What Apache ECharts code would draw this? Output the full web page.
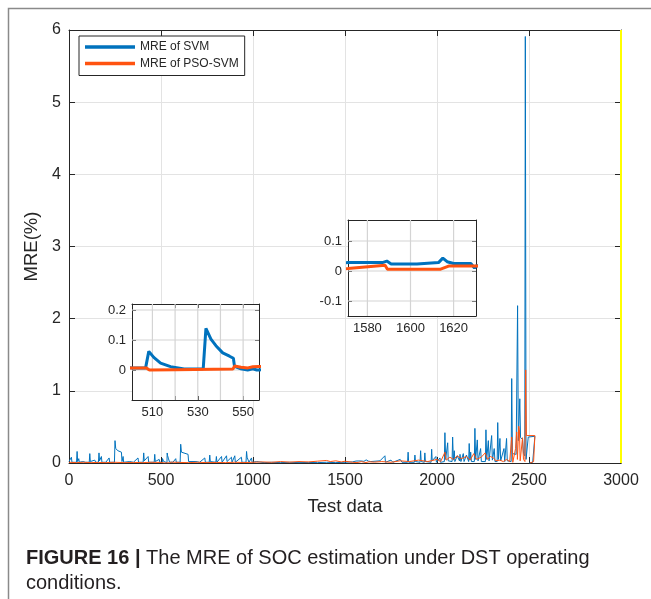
<!DOCTYPE html>
<html>
<head>
    <meta charset="utf-8" />
    <title>MRE of SOC estimation under DST</title>
    <script src="https://cdn.jsdelivr.net/npm/echarts@6/dist/echarts.min.js"></script>
    <style>
        html, body { margin: 0; padding: 0; background: #fff; }
        #main { width: 651px; height: 599px; }
    </style>
</head>
<body>
<div id="main"></div>
<script type="text/javascript">
    // [test data index, MRE %]
    let sveMre = [
        [0,0.02],[10,0.01],[13,0.08],[16,0.01],[25,0.03],[30,0.01],[41,0.01],[44,0.16],[47,0.02],[53,0.06],[56,0.01],
        [75,0.02],[90,0.01],[110,0.01],[113,0.13],[116,0.02],[125,0.01],[140,0.04],[145,0.01],[160,0.01],[163,0.14],
        [166,0.03],[176,0.09],[179,0.01],[200,0.01],[218,0.07],[221,0.01],[247,0.01],[250,0.31],[254,0.2],[266,0.17],
        [285,0.15],[288,0.02],[294,0.09],[297,0.01],[330,0.02],[350,0.01],[375,0.07],[378,0.01],[403,0.01],[406,0.14],
        [409,0.03],[430,0.09],[433,0.01],[463,0.01],[466,0.12],[469,0.02],[490,0.05],[494,0.01],[501,0.007],[507,0.007],
        [508.4,0.062],[510.6,0.042],[513.6,0.023],[518,0.011],[524,0.003],[532.4,0.004],[533.6,0.139],[535.8,0.103],
        [538,0.081],[541,0.057],[544,0.046],[545.7,0.039],[546.2,0.012],[549,0.004],[552,0],[554.3,0.004],[556,0],
        [557,0],[565,0.01],[580,0.06],[583,0.01],[604,0.01],[607,0.26],[611,0.15],[620,0.14],[647,0.12],[650,0.02],
        [690,0.02],[710,0.01],[738,0.07],[741,0.01],[762,0.01],[765,0.11],[768,0.02],[798,0.01],[801,0.09],[804,0.01],
        [829,0.09],[832,0.01],[856,0.1],[859,0.02],[883,0.08],[886,0.01],[901,0.1],[904,0.01],[937,0.08],[940,0.01],
        [962,0.01],[965,0.16],[968,0.08],[975,0.07],[978,0.01],[992,0.07],[995,0.01],[1020,0.02],[1060,0.005],
        [1100,0.01],[1150,0.005],[1200,0.01],[1250,0.005],[1300,0.008],[1350,0.005],[1400,0.01],[1450,0.005],
        [1500,0.01],[1540,0.015],[1560,0.027],[1571,0.028],[1587,0.028],[1589,0.033],[1591,0.023],[1603,0.023],
        [1613,0.028],[1615,0.043],[1617,0.031],[1620,0.025],[1628,0.025],[1629.7,0.01],[1630.4,0.017],[1640,0.02],
        [1690,0.03],[1700,0.01],[1717,0.1],[1720,0.01],[1750,0.04],[1760,0.01],[1800,0.05],[1810,0.01],[1840,0.01],
        [1843,0.15],[1846,0.01],[1877,0.01],[1880,0.11],[1883,0.02],[1908,0.01],[1911,0.17],[1914,0.02],[1931,0.01],
        [1934,0.14],[1937,0.02],[1968,0.01],[1971,0.19],[1974,0.03],[1994,0.09],[1997,0.01],[2016,0.07],[2019,0.01],
        [2040,0.02],[2043,0.42],[2047,0.05],[2058,0.28],[2061,0.03],[2082,0.02],[2085,0.36],[2089,0.04],[2094,0.17],
        [2097,0.02],[2110,0.1],[2122,0.03],[2125,0.12],[2130,0.02],[2143,0.13],[2147,0.02],[2160,0.11],[2172,0.02],
        [2175,0.27],[2179,0.04],[2183,0.15],[2187,0.02],[2203,0.02],[2206,0.48],[2210,0.05],[2219,0.32],[2223,0.03],
        [2237,0.2],[2241,0.02],[2263,0.02],[2266,0.46],[2270,0.05],[2279,0.31],[2283,0.03],[2297,0.38],[2301,0.04],
        [2311,0.2],[2315,0.02],[2327,0.02],[2330,0.56],[2334,0.05],[2342,0.34],[2346,0.03],[2364,0.2],[2368,0.02],
        [2378,0.34],[2382,0.03],[2403,0.02],[2406,1.17],[2410,0.13],[2430,0.12],[2435,0.1],[2438,2.18],[2442,0.31],
        [2450,0.89],[2454,0.35],[2465,0.33],[2470,0.13],[2477,0.1],[2480,5.91],[2484,0.05],[2496,0.36],[2532,0.37],
        [2520,0.01],[2500,0.0]
    ]

    let psoMre = [
        [0,0.01],[40,0.005],[80,0.01],[120,0.005],[160,0.008],[200,0.005],[250,0.01],[300,0.005],[350,0.008],
        [400,0.005],[450,0.01],[501,0.007],[507.2,0.007],[508.7,0.0],[520,0.001],[545.5,0.003],[546.2,0.013],
        [549.1,0.009],[552.1,0.007],[554.3,0.011],[557,0.012],[600,0.008],[650,0.005],[700,0.01],[750,0.005],
        [800,0.008],[850,0.005],[900,0.01],[950,0.006],[1000,0.01],[1050,0.015],[1100,0.01],[1150,0.02],[1200,0.012],
        [1250,0.02],[1300,0.015],[1350,0.025],[1400,0.035],[1420,0.02],[1450,0.03],[1480,0.015],[1500,0.025],
        [1540,0.01],[1560,0.007],[1571,0.008],[1588.2,0.019],[1589.3,0.006],[1614,0.006],[1618,0.017],[1630.4,0.017],
        [1660,0.012],[1700,0.02],[1750,0.01],[1800,0.03],[1850,0.02],[1900,0.04],[1950,0.02],[2000,0.05],[2020,0.02],
        [2043,0.15],[2050,0.04],[2070,0.08],[2090,0.05],[2110,0.1],[2130,0.06],[2160,0.09],[2180,0.04],[2200,0.13],
        [2215,0.05],[2240,0.08],[2262,0.14],[2275,0.05],[2290,0.09],[2307,0.07],[2320,0.03],[2342,0.04],[2360,0.02],
        [2378,0.05],[2395,0.02],[2406,0.36],[2412,0.01],[2427,0.2],[2433,0.43],[2437,0.05],[2444,0.51],[2448,0.46],
        [2452,0.03],[2465,0.35],[2470,0.05],[2478,0.02],[2482,1.29],[2486,0.38],[2532,0.38],[2525,0.02],[2505,0.0]
    ]

    let legendNames = ['MRE of SVM', 'MRE of PSO-SVM']
    let inset1XRange = [501, 557]
    let inset1YRange = [-0.1, 0.22]
    let inset1X = [510, 520, 530, 540, 550]
    let inset1XLabels = [510, 530, 550]
    let inset1Y = [0, 0.1, 0.2]
    let inset2XRange = [1571, 1630.4]
    let inset2YRange = [-0.15, 0.17]
    let inset2X = [1580, 1600, 1620]
    let inset2Y = [-0.1, 0, 0.1]

    let colorSvm = '#0072BD'
    let colorPso = '#FF5310'
    let axisColor = '#262626'
    let gridColor = '#e3e3e3'
    let insetGridColor = '#d4d4d4'
    let fontFamily = '"Liberation Sans", Arial, sans-serif'

    let myChart = echarts.init(document.getElementById('main'), null, {renderer: 'canvas'});

    function boxAxis(gridIndex, position, range, opts) {
        let a = {
            type: 'value', gridIndex: gridIndex, position: position, min: range[0], max: range[1],
            z: opts.z || 0,
            axisLine: {show: true, onZero: false, lineStyle: {color: axisColor, width: 1}},
            axisTick: {show: true, inside: true, length: opts.tickLen, lineStyle: {color: axisColor}},
            axisLabel: {show: opts.label, color: axisColor, fontSize: opts.fontSize, fontFamily: fontFamily,
                        margin: opts.margin, formatter: function (v) { return String(v) }},
            splitLine: {show: opts.split, lineStyle: {color: gridColor, width: 1}}
        }
        if (opts.interval) a.interval = opts.interval
        if (opts.ticks) {
            a.axisTick.customValues = opts.ticks
            a.axisLabel.customValues = opts.labels || opts.ticks
        }
        return a
    }

    // light grid lines inside an inset: one short line series per tick value
    function insetGrid(axisIndex, xs, ys, xr, yr) {
        let segs = xs.map(function (v) { return [[v, yr[0]], [v, yr[1]]] })
            .concat(ys.map(function (v) { return [[xr[0], v], [xr[1], v]] }))
        return segs.map(function (seg) {
            return {
                type: 'line', xAxisIndex: axisIndex, yAxisIndex: axisIndex, data: seg,
                z: 4, silent: true, showSymbol: false, symbol: 'none',
                lineStyle: {color: insetGridColor, width: 1.2}, itemStyle: {color: insetGridColor}
            }
        })
    }

    let series = [
        {
            name: legendNames[0], type: 'line', xAxisIndex: 0, yAxisIndex: 0, data: sveMre,
            showSymbol: false, symbol: 'none', color: colorSvm, lineStyle: {width: 1, color: colorSvm}, z: 2,
            markLine: {
                silent: true, symbol: ['none', 'none'], label: {show: false},
                lineStyle: {color: '#ffff00', width: 2, type: 'solid'},
                data: [{xAxis: 3000}]
            }
        },
        {
            name: legendNames[1], type: 'line', xAxisIndex: 0, yAxisIndex: 0, data: psoMre,
            showSymbol: false, symbol: 'none', color: colorPso, lineStyle: {width: 1, color: colorPso}, z: 2
        }
    ]
    series = series.concat(insetGrid(2, inset1X, inset1Y, inset1XRange, inset1YRange))
    series = series.concat(insetGrid(4, inset2X, inset2Y, inset2XRange, inset2YRange))
    ;[2, 4].forEach(function (ai) {
        series.push({
            name: legendNames[0], type: 'line', xAxisIndex: ai, yAxisIndex: ai, data: sveMre, clip: true,
            showSymbol: false, symbol: 'none', color: colorSvm, lineStyle: {width: 3, color: colorSvm}, z: 5
        })
        series.push({
            name: legendNames[1], type: 'line', xAxisIndex: ai, yAxisIndex: ai, data: psoMre, clip: true,
            showSymbol: false, symbol: 'none', color: colorPso, lineStyle: {width: 3, color: colorPso}, z: 5
        })
    })

    let option = {
        animation: false,
        backgroundColor: '#fff',
        textStyle: {fontFamily: fontFamily},
        grid: [
            {left: 69, top: 30, width: 552, height: 433},
            {left: 132, top: 304, width: 127, height: 96, show: true, backgroundColor: '#fff', borderWidth: 0, z: 1},
            {left: 348, top: 220, width: 128, height: 96, show: true, backgroundColor: '#fff', borderWidth: 0, z: 1}
        ],
        legend: {
            data: legendNames,
            orient: 'vertical',
            left: 79, top: 36,
            padding: [5, 6, 6, 6],
            itemGap: 4.5,
            itemWidth: 50, itemHeight: 3.5,
            icon: 'rect',
            backgroundColor: '#fff',
            borderColor: axisColor, borderWidth: 1,
            textStyle: {fontSize: 12, color: axisColor, fontFamily: fontFamily},
            z: 6
        },
        xAxis: [
            Object.assign(boxAxis(0, 'bottom', [0, 3000], {interval: 500, tickLen: 6, label: true, fontSize: 16, margin: 10, split: true}),
                {name: 'Test data', nameLocation: 'middle', nameGap: 34,
                 nameTextStyle: {fontSize: 18.5, color: axisColor, fontFamily: fontFamily}}),
            boxAxis(0, 'top', [0, 3000], {interval: 500, tickLen: 6, label: false, split: false}),
            boxAxis(1, 'bottom', inset1XRange, {ticks: inset1X, labels: inset1XLabels, tickLen: 4, label: true, fontSize: 13, margin: 6, split: false, z: 4}),
            boxAxis(1, 'top', inset1XRange, {ticks: inset1X, tickLen: 4, label: false, split: false, z: 4}),
            boxAxis(2, 'bottom', inset2XRange, {ticks: inset2X, tickLen: 4, label: true, fontSize: 13, margin: 6, split: false, z: 4}),
            boxAxis(2, 'top', inset2XRange, {ticks: inset2X, tickLen: 4, label: false, split: false, z: 4})
        ],
        yAxis: [
            Object.assign(boxAxis(0, 'left', [0, 6], {interval: 1, tickLen: 6, label: true, fontSize: 16, margin: 8, split: true}),
                {name: 'MRE(%)', nameLocation: 'middle', nameGap: 23,
                 nameTextStyle: {fontSize: 18.5, color: axisColor, fontFamily: fontFamily}}),
            boxAxis(0, 'right', [0, 6], {interval: 1, tickLen: 6, label: false, split: false}),
            boxAxis(1, 'left', inset1YRange, {ticks: inset1Y, tickLen: 4, label: true, fontSize: 13, margin: 6, split: false, z: 4}),
            boxAxis(1, 'right', inset1YRange, {ticks: inset1Y, tickLen: 4, label: false, split: false, z: 4}),
            boxAxis(2, 'left', inset2YRange, {ticks: inset2Y, tickLen: 4, label: true, fontSize: 13, margin: 6, split: false, z: 4}),
            boxAxis(2, 'right', inset2YRange, {ticks: inset2Y, tickLen: 4, label: false, split: false, z: 4})
        ],
        series: series,
        graphic: [
            {
                type: 'polyline', silent: true,
                shape: {points: [[8.5, 599], [8.5, 8.5], [651, 8.5]]},
                style: {stroke: '#8a8a8a', lineWidth: 1.5, fill: null}
            },
            {
                type: 'text', left: 26, top: 546,
                style: {
                    text: '{b|FIGURE 16 |} The MRE of SOC estimation under DST operating\nconditions.',
                    fill: '#231f20', fontSize: 20, fontFamily: fontFamily, lineHeight: 25,
                    rich: {b: {fontWeight: 'bold', fontSize: 20, fontFamily: fontFamily, fill: '#231f20', lineHeight: 25}}
                }
            }
        ]
    };

    myChart.setOption(option);
</script>
</body>
</html>
